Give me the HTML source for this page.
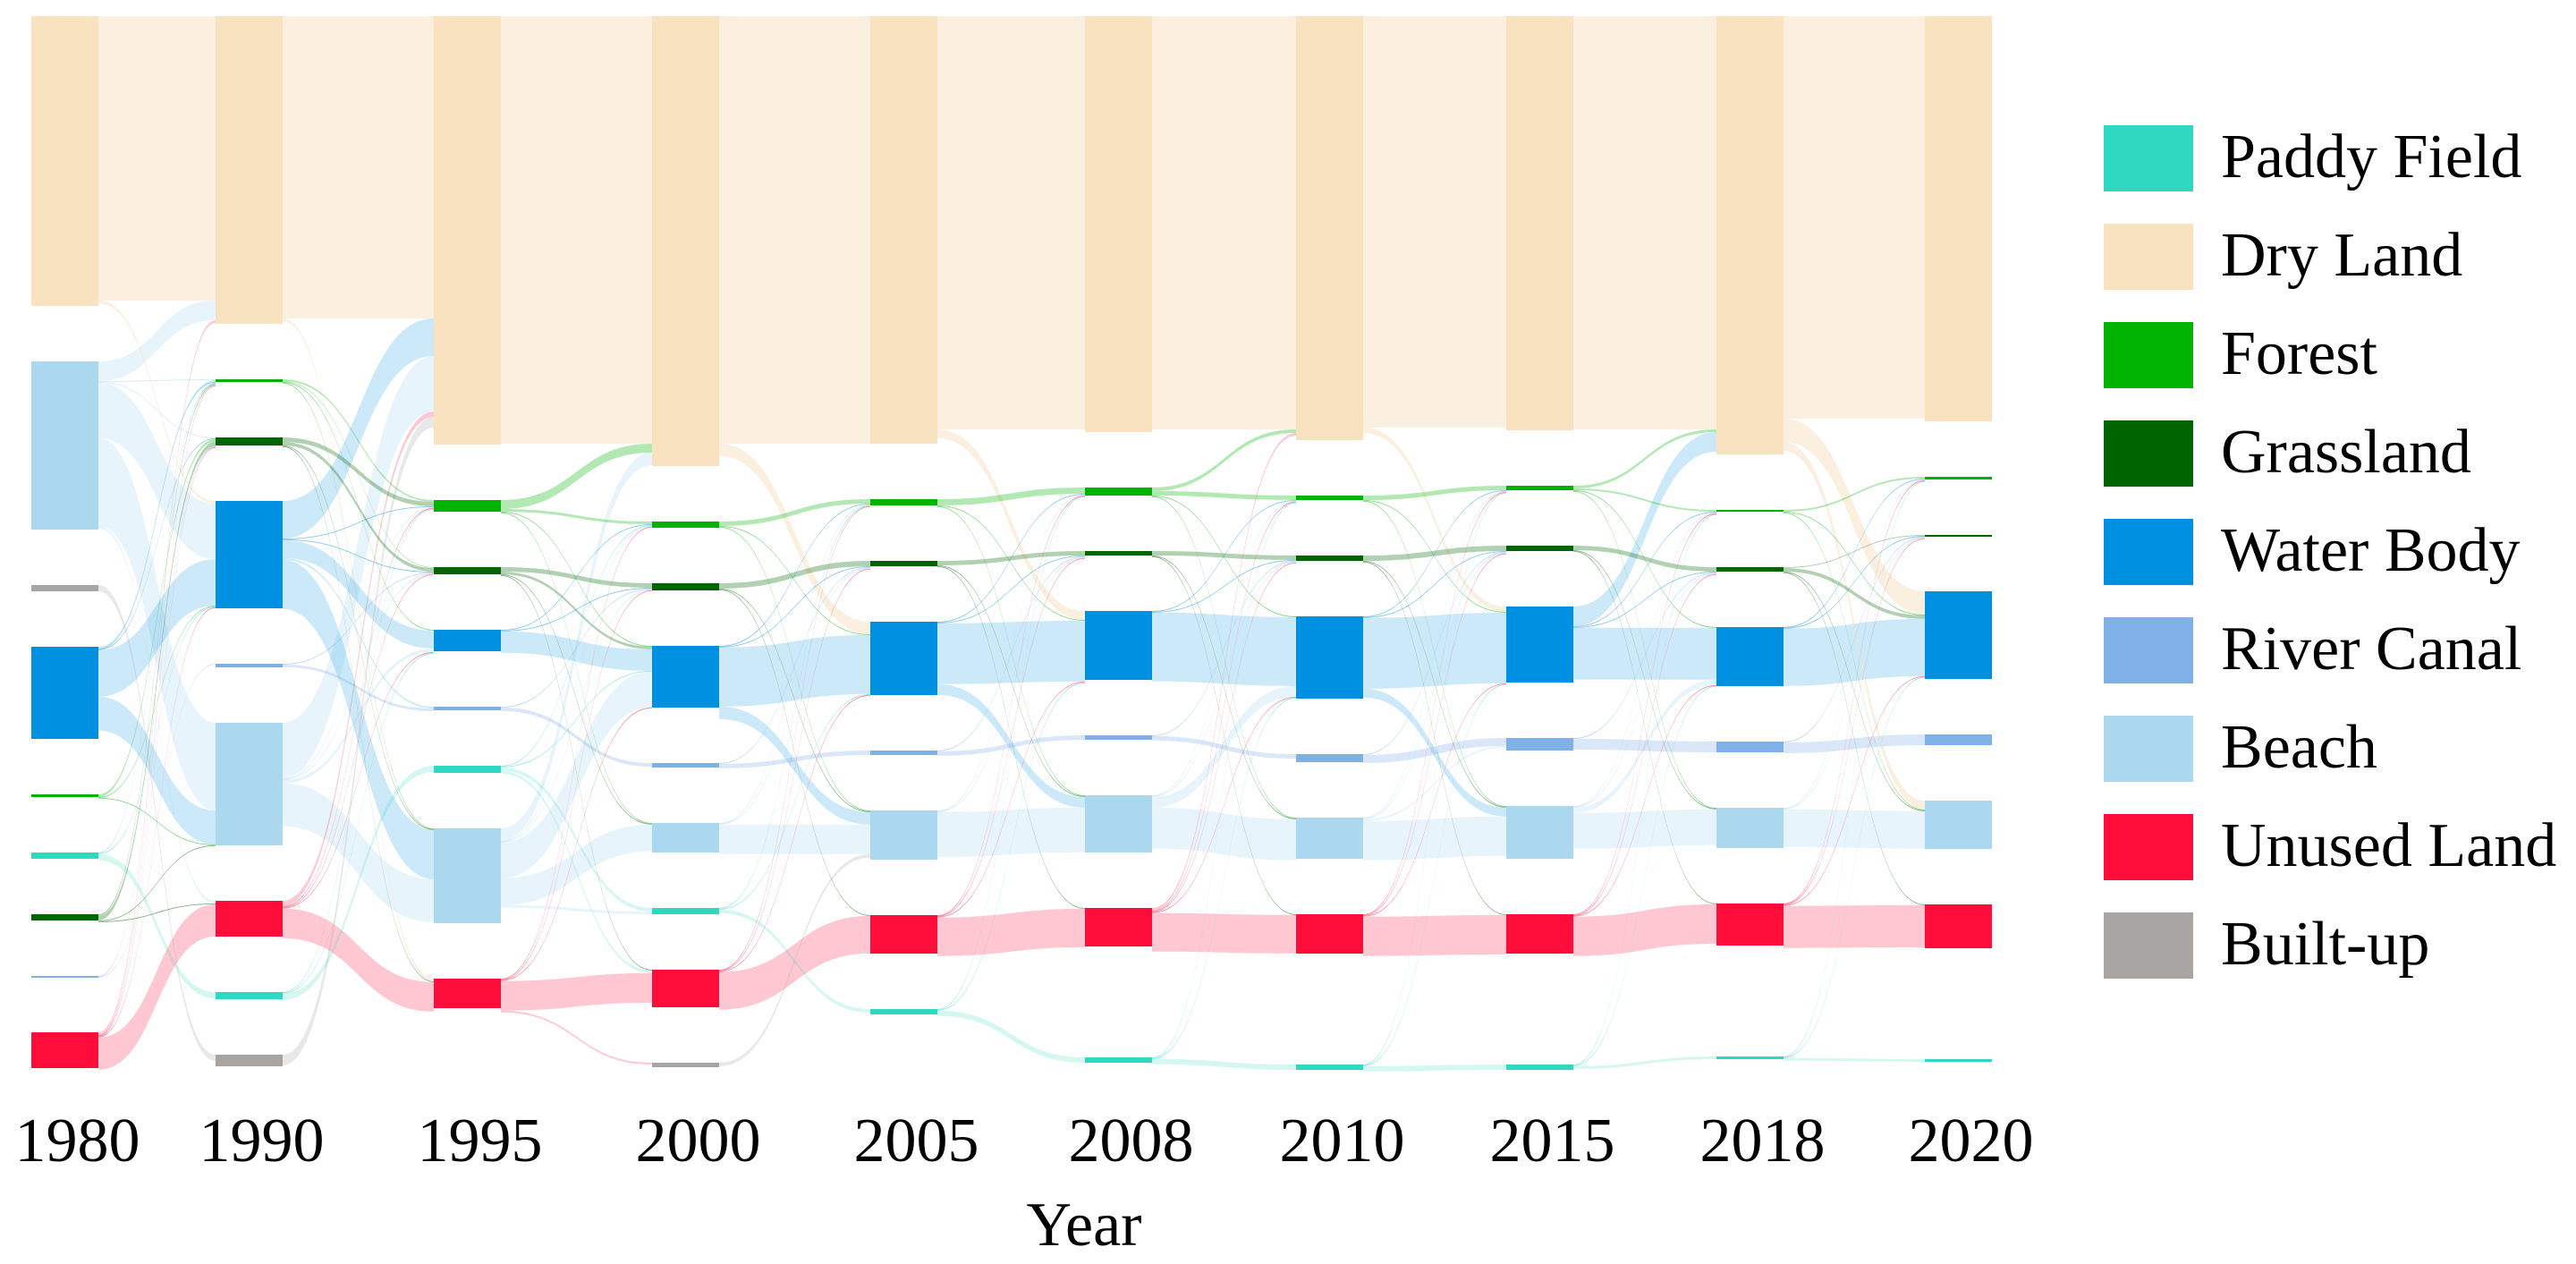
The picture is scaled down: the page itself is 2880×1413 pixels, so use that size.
<!DOCTYPE html>
<html><head><meta charset="utf-8"><style>
html,body{margin:0;padding:0;background:#fff;}
svg{display:block;font-family:"Liberation Serif",serif;}
</style></head><body>
<svg id="chart" width="2880" height="1413" viewBox="0 0 2880 1413" xmlns="http://www.w3.org/2000/svg">
<g id="links"></g>
<g id="nodes"></g>
<g id="xlabels"></g>
<text x="1212" y="1392" font-size="70" text-anchor="middle">Year</text>
<g id="legend"></g>
</svg>
<script>
const years=["1980","1990","1995","2000","2005","2008","2010","2015","2018","2020"];
const catKeys=["P","D","F","G","W","R","B","U","Bu"];
const catNames=["Paddy Field","Dry Land","Forest","Grassland","Water Body","River Canal","Beach","Unused Land","Built-up"];
const catColors=["#2fd8c0","#f8e2c0","#00b300","#006400","#0090e2","#80b0e8","#acd8ef","#ff0d3a","#a8a4a2"];
const linkOpacity=[0.2,0.5,0.3,0.3,0.2,0.3,0.28,0.23,0.25];

const nodes1980=[["D",324],["B",188],["Bu",7],["W",103],["F",3],["P",7],["G",7],["R",1],["U",40]];
const nodes1990=[["D",344],["F",3],["G",9],["W",120],["R",4],["B",137],["U",40],["P",8],["Bu",13]];
const nodes1995=[["D",479],["F",13],["G",8],["W",24],["R",4],["P",8],["B",106],["U",33]];
const nodes2000=[["D",503],["F",7],["G",8],["W",69],["R",5],["B",33],["P",7],["U",42],["Bu",5]];
const nodes2005=[["D",478],["F",7],["G",6],["W",82],["R",5],["B",55],["U",43],["P",6]];
const nodes2008=[["D",465],["F",9],["G",5],["W",77],["R",5],["B",64],["U",43],["Bu",0],["P",6]];
const nodes2010=[["D",474],["F",5],["G",6],["W",92],["R",9],["B",46],["U",44],["Bu",0],["P",6]];
const nodes2015=[["D",463],["F",5],["G",6],["W",85],["R",14],["B",59],["U",44],["Bu",0],["P",6]];
const nodes2018=[["D",490],["F",2],["G",5],["W",66],["R",12],["B",45],["U",47],["Bu",0],["P",3]];
const nodes2020=[["D",453],["F",3],["G",1],["W",98],["R",12],["B",54],["U",49],["Bu",0],["P",3]];

const flows1=[["D","D",318],["D","W",3],["B","D",22],["B","W",62],["B","B",98],["B","U",3],["Bu","Bu",7],["W","W",52],["W","B",38],["W","F",2],["F","G",3],["P","P",7],["G","F",2],["G","G",5],["R","R",1],["U","U",36],["U","D",3]];
const flows2=[["D","D",338],["D","U",3],["F","F",2],["F","G",1],["G","F",5],["G","G",4],["W","D",42],["W","W",20],["W","B",55],["W","R",2],["R","R",3],["B","D",62],["B","B",48],["B","W",4],["U","U",33],["U","D",6],["P","P",7],["Bu","D",12]];
const flows3=[["D","D",478],["F","D",10],["F","F",3],["G","G",5],["G","W",3],["W","W",24],["R","R",4],["P","P",4],["P","U",3],["B","W",40],["B","B",30],["B","P",3],["B","D",14],["U","U",33],["U","Bu",2]];
const flows4=[["D","D",478],["D","W",14],["F","F",5],["G","G",6],["W","W",66],["W","B",14],["R","R",5],["B","B",33],["P","P",4],["U","U",42],["Bu","B",4]];
const flows5=[["D","D",462],["D","W",10],["F","F",7],["G","G",5],["W","W",68],["W","B",12],["R","R",5],["B","B",50],["U","U",43],["P","P",6]];
const flows6=[["D","D",462],["F","F",5],["F","D",4],["G","G",5],["W","W",77],["R","R",5],["B","B",46],["B","W",12],["U","U",43],["U","D",3],["P","P",6]];
const flows7=[["D","D",460],["D","W",6],["F","F",5],["G","G",6],["W","W",79],["W","B",10],["R","R",9],["B","B",44],["B","R",2],["U","U",44],["P","P",6]];
const flows8=[["D","D",462],["W","D",22],["F","F",2],["F","D",3],["G","G",5],["W","W",58],["R","R",12],["B","B",40],["B","W",6],["U","U",44],["P","P",3]];
const flows9=[["D","D",450],["D","W",26],["D","B",10],["F","F",2],["G","G",1],["G","W",4],["W","W",64],["R","R",12],["B","B",42],["U","U",47],["P","P",3]];
const thinPairs=[["F","W"],["F","B"],["G","B"],["G","U"],["W","F"],["W","G"],["U","G"],["U","F"],["P","W"],["B","F"],["R","G"],["B","G"],["U","W"],["P","F"]];

const allNodes=[nodes1980,nodes1990,nodes1995,nodes2000,nodes2005,nodes2008,nodes2010,nodes2015,nodes2018,nodes2020];
const allFlows=[flows1,flows2,flows3,flows4,flows5,flows6,flows7,flows8,flows9];

const NS="http://www.w3.org/2000/svg";
const colX=[35,241,485,729,973,1213,1449,1684,1919,2152];
const nodeW=75, topY=18, pad=62, ky=1;
function yScale(v){return v*ky;}
function ci(k){return catKeys.indexOf(k);}

const layout=allNodes.map((col)=>{
  let y=topY;const m={};
  col.forEach(([k,v])=>{const h=yScale(v);m[k]={y0:y,y1:y+h,out:y,inn:y,v:v};y+=h+pad;});
  return m;
});

const linksG=document.getElementById('links');
const nodesG=document.getElementById('nodes');
allFlows.forEach((fl,t)=>{
  const L=layout[t],R=layout[t+1];
  let list=fl.filter(f=>L[f[0]]&&R[f[1]]).map(f=>({s:f[0],d:f[1],v:f[2]}));
  thinPairs.forEach(([a,b])=>{if(L[a]&&R[b]&&L[a].v>0&&R[b].v>0)list.push({s:a,d:b,v:0.9,thin:true});});
  const bySrc=list.slice().sort((a,b)=>L[a.s].y0-L[b.s].y0||R[a.d].y0-R[b.d].y0);
  bySrc.forEach(l=>{const n=L[l.s];l.sy0=n.out;l.sy1=n.out+yScale(l.v);n.out=l.sy1;});
  const byDst=list.slice().sort((a,b)=>R[a.d].y0-R[b.d].y0||L[a.s].y0-L[b.s].y0);
  byDst.forEach(l=>{const n=R[l.d];l.ty0=n.inn;l.ty1=n.inn+yScale(l.v);n.inn=l.ty1;});
  const x0=colX[t]+nodeW, x1=colX[t+1], xm=(x0+x1)/2;
  list.sort((a,b)=>b.v-a.v);
  list.forEach(l=>{
    const p=document.createElementNS(NS,'path');
    const d=`M${x0},${l.sy0}C${xm},${l.sy0} ${xm},${l.ty0} ${x1},${l.ty0}L${x1},${l.ty1}C${xm},${l.ty1} ${xm},${l.sy1} ${x0},${l.sy1}Z`;
    p.setAttribute('d',d);
    const c=ci(l.s);
    p.setAttribute('fill',catColors[c]);
    p.setAttribute('fill-opacity',l.thin?0.5:linkOpacity[c]);
    
    
    linksG.appendChild(p);
  });
});

allNodes.forEach((col,i)=>{
  col.forEach(([k,v])=>{
    if(v<=0) return;
    const n=layout[i][k];
    const r=document.createElementNS(NS,'rect');
    r.setAttribute('x',colX[i]);r.setAttribute('y',n.y0);
    r.setAttribute('width',nodeW);r.setAttribute('height',Math.max(2,n.y1-n.y0));
    r.setAttribute('fill',catColors[ci(k)]);
    
    
    nodesG.appendChild(r);
  });
  const t=document.createElementNS(NS,'text');
  t.setAttribute('x',colX[i]+nodeW/2+14);t.setAttribute('y',1298);
  t.setAttribute('font-size','70');t.setAttribute('text-anchor','middle');
  t.textContent=years[i];
  
  
  document.getElementById('xlabels').appendChild(t);
});

const lg=document.getElementById('legend');
catNames.forEach((nm,i)=>{
  const y=140+i*110;
  const r=document.createElementNS(NS,'rect');
  r.setAttribute('x',2352);r.setAttribute('y',y);r.setAttribute('width',100);r.setAttribute('height',74);
  r.setAttribute('fill',catColors[i]);
  
  
  lg.appendChild(r);
  const t=document.createElementNS(NS,'text');
  t.setAttribute('x',2483);t.setAttribute('y',y+58);t.setAttribute('font-size','70');
  t.textContent=nm;
  
  
  lg.appendChild(t);
});
</script>
</body></html>
